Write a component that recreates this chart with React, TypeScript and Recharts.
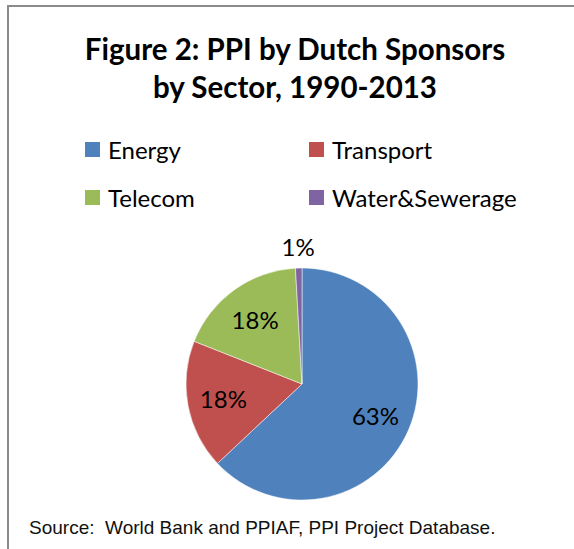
import React from 'react';
import {PieChart, Pie, Cell, Legend} from 'recharts';

const sectors = ['Energy', 'Transport', 'Telecom', 'Water&Sewerage'];
const shares = [63.0, 18.0, 18.1, 0.9];
const colors = ['#4F81BD', '#C0504D', '#9BBB59', '#8064A2'];

const titleLines = ['Figure 2: PPI by Dutch Sponsors', 'by Sector, 1990-2013'];
const sourceNote = 'Source:  World Bank and PPIAF, PPI Project Database.';

const data = sectors.map((name, i) => ({name, value: shares[i]}));

const RAD = Math.PI / 180;
const font = 'Lato, "Noto Sans", sans-serif';

const renderLabel = (props: any) => {
    const {cx, cy, midAngle, outerRadius, percent} = props;
    // small slices get their label outside, like Excel's best fit
    const r = percent < 0.05 ? outerRadius * 1.19 : outerRadius * 0.69;
    const x = cx + r * Math.cos(-midAngle * RAD);
    const y = cy + r * Math.sin(-midAngle * RAD);
    return (
        <text x={x} y={y} textAnchor="middle" dominantBaseline="central"
              fill="#000" fontSize={24} fontFamily={font}>
            {Math.round(percent * 100) + '%'}
        </text>
    );
};

const renderLegend = (props: any) => {
    // keep the series order, recharts sorts legend items by name otherwise
    const items = [...(props.payload || [])].sort(
        (a: any, b: any) => sectors.indexOf(a.value) - sectors.indexOf(b.value));
    return (
        <div style={{display: 'grid', gridTemplateColumns: '224px 224px', fontFamily: font}}>
            {items.map((it: any) => (
                <div key={it.value} style={{display: 'flex', alignItems: 'center', height: 48}}>
                    <span style={{width: 15, height: 15, background: it.color, marginRight: 8, display: 'inline-block'}}/>
                    <span style={{fontSize: 24, color: '#000'}}>{it.value}</span>
                </div>
            ))}
        </div>
    );
};

export default function App() {
    return (
        <div style={{position: 'absolute', left: 0, top: 0, width: 574, height: 549, background: '#fff', overflow: 'hidden'}}>
            <div style={{position: 'absolute', left: 7, top: 5, width: 580, height: 560,
                borderTop: '2px solid #8a8a8a', borderLeft: '2px solid #8a8a8a'}}/>
            <div style={{position: 'absolute', left: 20, top: 30, width: 550, textAlign: 'center',
                fontFamily: font, fontWeight: 700, fontSize: 29.5, lineHeight: '38px', color: '#000'}}>
                {titleLines.map(t => <div key={t}>{t}</div>)}
            </div>
            <div style={{position: 'absolute', left: 0, top: 0}}>
                <PieChart width={574} height={549} margin={{top: 0, right: 0, bottom: 0, left: 0}}>
                    <Legend content={renderLegend}
                            wrapperStyle={{position: 'absolute', left: 85, top: 125, width: 460}}/>
                    <Pie data={data} dataKey="value" nameKey="name" cx={302} cy={384} outerRadius={116}
                         startAngle={90} endAngle={-270} label={renderLabel} labelLine={false}
                         stroke="#fff" strokeWidth={0.5} isAnimationActive={false}>
                        {data.map((d, i) => <Cell key={d.name} fill={colors[i]}/>)}
                    </Pie>
                </PieChart>
            </div>
            <div style={{position: 'absolute', left: 29, top: 517, fontFamily: '"Liberation Sans", Arial, sans-serif',
                fontSize: 19, color: '#111', whiteSpace: 'pre'}}>
                {sourceNote}
            </div>
        </div>
    );
}
